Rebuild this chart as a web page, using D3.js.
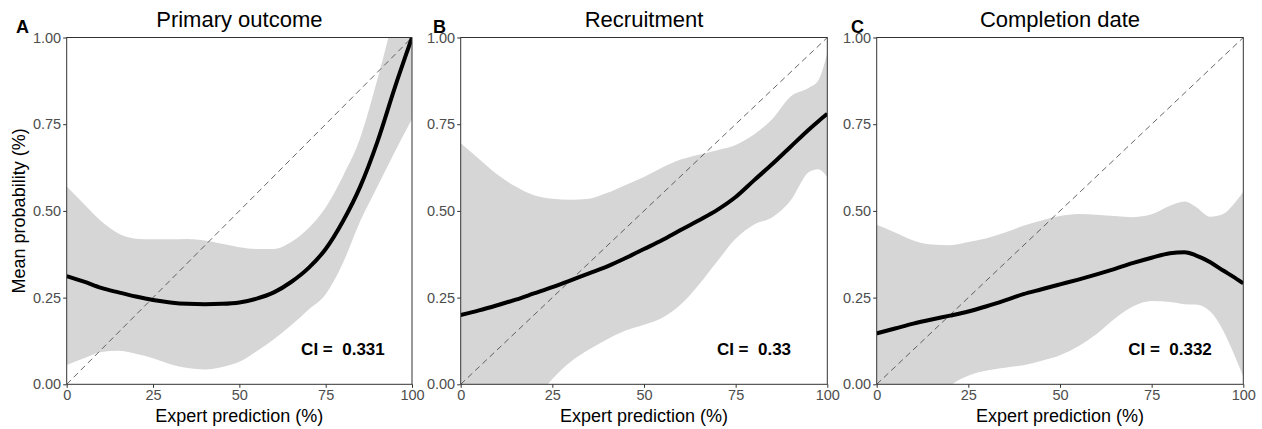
<!DOCTYPE html>
<html>
<head>
<meta charset="utf-8">
<script src="https://cdn.jsdelivr.net/npm/d3@7"></script>
<style>
  body { margin: 0; background: #fff; }
  svg { font-family: "Liberation Sans", Arial, sans-serif; }
</style>
</head>
<body>
<div id="chart"></div>
<script>
// Panel A - Primary outcome
const aX     = [0, 5, 10, 15, 20, 25, 30, 35, 40, 45, 50, 55, 60, 65, 70, 75, 80, 85, 90, 95, 100];
const aMean  = [0.312, 0.296, 0.278, 0.265, 0.253, 0.243, 0.236, 0.232, 0.231, 0.232, 0.236, 0.247, 0.265, 0.295, 0.335, 0.39, 0.47, 0.57, 0.70, 0.855, 1.0];
const aUpper = [0.57, 0.52, 0.47, 0.435, 0.42, 0.418, 0.418, 0.419, 0.415, 0.405, 0.395, 0.39, 0.39, 0.41, 0.45, 0.51, 0.60, 0.71, 0.88, 1.07, 1.25];
const aLower = [0.056, 0.075, 0.093, 0.097, 0.088, 0.075, 0.058, 0.047, 0.043, 0.05, 0.065, 0.095, 0.13, 0.17, 0.215, 0.26, 0.35, 0.47, 0.57, 0.67, 0.765];

// Panel B - Recruitment
const bX     = [0, 5, 10, 15, 20, 25, 30, 35, 40, 45, 50, 55, 60, 65, 70, 75, 80, 85, 90, 95, 97.5, 100];
const bMean  = [0.20, 0.213, 0.228, 0.244, 0.262, 0.28, 0.30, 0.32, 0.34, 0.364, 0.39, 0.416, 0.445, 0.473, 0.503, 0.54, 0.588, 0.635, 0.685, 0.735, 0.758, 0.78];
const bUpper = [0.695, 0.65, 0.605, 0.57, 0.545, 0.535, 0.532, 0.535, 0.552, 0.575, 0.598, 0.625, 0.648, 0.662, 0.675, 0.69, 0.72, 0.765, 0.83, 0.855, 0.875, 0.955];
const bLower = [-0.35, -0.27, -0.2, -0.12, -0.05, 0.015, 0.065, 0.10, 0.13, 0.155, 0.172, 0.192, 0.23, 0.288, 0.355, 0.42, 0.46, 0.482, 0.53, 0.612, 0.62, 0.598];

// Panel C - Completion date
const cX     = [0, 5, 10, 15, 20, 25, 30, 35, 40, 45, 50, 55, 60, 65, 70, 75, 80, 84, 87, 91, 94.5, 97, 100];
const cMean  = [0.147, 0.161, 0.175, 0.187, 0.198, 0.21, 0.225, 0.242, 0.26, 0.274, 0.288, 0.302, 0.317, 0.333, 0.35, 0.365, 0.378, 0.381, 0.372, 0.352, 0.328, 0.312, 0.291];
const cUpper = [0.46, 0.438, 0.415, 0.403, 0.401, 0.41, 0.421, 0.438, 0.457, 0.472, 0.485, 0.491, 0.489, 0.485, 0.482, 0.49, 0.515, 0.527, 0.512, 0.483, 0.491, 0.515, 0.555];
const cLower = [-0.35, -0.25, -0.15, -0.07, -0.005, 0.025, 0.04, 0.048, 0.055, 0.068, 0.084, 0.11, 0.145, 0.19, 0.225, 0.24, 0.237, 0.231, 0.23, 0.21, 0.155, 0.098, 0.022];

const xTicks = [0, 25, 50, 75, 100];
const yTicks = [0, 0.25, 0.5, 0.75, 1];
const titles = ["Primary outcome", "Recruitment", "Completion date"];
const tags = ["A", "B", "C"];
const ciLabels = ["CI =  0.331", "CI =  0.33", "CI =  0.332"];

const W = 1262, H = 429;
const plotTop = 37.5, plotBottom = 384.3;

const panels = [
  {x: aX, mean: aMean, lo: aLower, hi: aUpper, left: 66.7, right: 412, tagX: 16, yTitle: true},
  {x: bX, mean: bMean, lo: bLower, hi: bUpper, left: 460.7, right: 827.3, tagX: 433, yTitle: false},
  {x: cX, mean: cMean, lo: cLower, hi: cUpper, left: 876.7, right: 1243.3, tagX: 851, yTitle: false}
];

const svg = d3.select("#chart").append("svg")
  .attr("width", W)
  .attr("height", H);

svg.append("rect").attr("width", W).attr("height", H).attr("fill", "#fff");

panels.forEach(function(p, i) {
  const x = d3.scaleLinear().domain([0, 100]).range([p.left, p.right]);
  const y = d3.scaleLinear().domain([0, 1]).range([plotBottom, plotTop]);

  const rows = p.x.map(function(v, j) {
    return {x: v, mean: p.mean[j], lo: p.lo[j], hi: p.hi[j]};
  });

  const clipId = "clip" + i;
  svg.append("clipPath").attr("id", clipId)
    .append("rect")
    .attr("x", p.left).attr("y", plotTop)
    .attr("width", p.right - p.left).attr("height", plotBottom - plotTop);

  const g = svg.append("g").attr("clip-path", "url(#" + clipId + ")");

  // confidence ribbon
  const area = d3.area()
    .x(function(d) { return x(d.x); })
    .y0(function(d) { return y(d.lo); })
    .y1(function(d) { return y(d.hi); })
    .curve(d3.curveMonotoneX);
  g.append("path").datum(rows)
    .attr("d", area)
    .attr("fill", "#d6d6d6");

  // identity line
  g.append("line")
    .attr("x1", x(0)).attr("y1", y(0))
    .attr("x2", x(100)).attr("y2", y(1))
    .attr("stroke", "#404040")
    .attr("stroke-width", 0.8)
    .attr("stroke-dasharray", "6,4");

  // mean curve
  const line = d3.line()
    .x(function(d) { return x(d.x); })
    .y(function(d) { return y(d.mean); })
    .curve(d3.curveMonotoneX);
  g.append("path").datum(rows)
    .attr("d", line)
    .attr("fill", "none")
    .attr("stroke", "#000")
    .attr("stroke-width", 4);

  // frame
  svg.append("rect")
    .attr("x", p.left).attr("y", plotTop)
    .attr("width", p.right - p.left).attr("height", plotBottom - plotTop)
    .attr("fill", "none")
    .attr("stroke", "#333")
    .attr("stroke-width", 1);

  // axes
  const xAxis = svg.append("g")
    .attr("transform", "translate(0," + plotBottom + ")")
    .call(d3.axisBottom(x).tickValues(xTicks).tickSize(3.5).tickPadding(2));
  const yAxis = svg.append("g")
    .attr("transform", "translate(" + p.left + ",0)")
    .call(d3.axisLeft(y).tickValues(yTicks).tickFormat(d3.format(".2f")).tickSize(3.5).tickPadding(2));
  [xAxis, yAxis].forEach(function(ax) {
    ax.select(".domain").remove();
    ax.selectAll(".tick line").attr("stroke", "#333");
    ax.selectAll(".tick text")
      .attr("fill", "#4d4d4d")
      .style("font-size", "14.5px")
      .style("font-family", "'Liberation Sans', Arial, sans-serif");
  });

  // titles
  svg.append("text")
    .attr("x", (p.left + p.right) / 2).attr("y", 27)
    .attr("text-anchor", "middle")
    .style("font-size", "22px")
    .attr("fill", "#000")
    .text(titles[i]);

  svg.append("text")
    .attr("x", p.tagX).attr("y", 33)
    .style("font-size", "18px")
    .style("font-weight", "bold")
    .attr("fill", "#000")
    .text(tags[i]);

  svg.append("text")
    .attr("x", (p.left + p.right) / 2).attr("y", 421.5)
    .attr("text-anchor", "middle")
    .style("font-size", "18px")
    .attr("fill", "#000")
    .text("Expert prediction (%)");

  if (p.yTitle) {
    svg.append("text")
      .attr("transform", "translate(25," + ((plotTop + plotBottom) / 2) + ") rotate(-90)")
      .attr("text-anchor", "middle")
      .style("font-size", "18px")
      .attr("fill", "#000")
      .text("Mean probability (%)");
  }

  // CI annotation
  svg.append("text")
    .attr("x", x(80)).attr("y", y(0.1))
    .attr("text-anchor", "middle")
    .attr("dominant-baseline", "central")
    .style("font-size", "17px")
    .style("font-weight", "bold")
    .style("white-space", "pre")
    .attr("fill", "#000")
    .text(ciLabels[i]);
});
</script>
</body>
</html>
